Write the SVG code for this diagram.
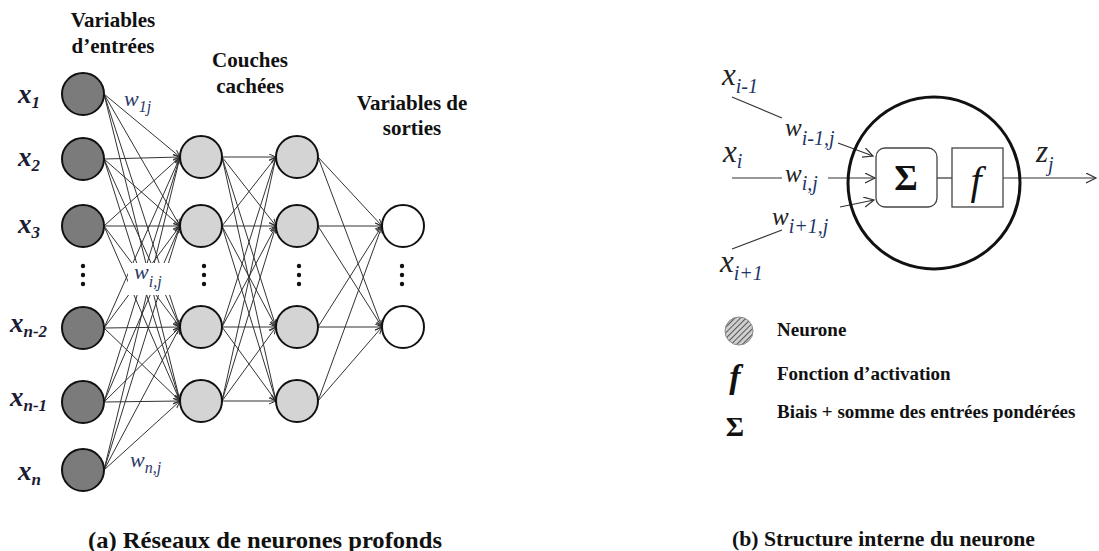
<svg xmlns="http://www.w3.org/2000/svg" width="1099" height="551" viewBox="0 0 1099 551">
<style>
text{font-family:"Liberation Serif","Times New Roman",Tinos,"DejaVu Serif",serif}
.hd{font-weight:bold;font-size:21px;fill:#111;text-anchor:middle}
.xl{font-weight:bold;font-style:italic;font-size:27px;fill:#1b1b33}
.xs{font-size:17px}
.wl{font-style:italic;font-size:22px;fill:#2d3a66}
.ws{font-size:16px}
.rx{font-style:italic;font-size:31px;fill:#222}
.rs{font-size:20px;fill:#1d3566}
.rw{font-style:italic;font-size:25px;fill:#222}
.lg{font-weight:bold;font-size:19px;fill:#111}
.cap{font-weight:bold;fill:#111}
.in{fill:#7b7b7b;stroke:#111;stroke-width:2}
.hid{fill:#d4d4d4;stroke:#111;stroke-width:2}
.out{fill:#fff;stroke:#111;stroke-width:2}
.e{stroke:#333;stroke-width:1;fill:none;marker-end:url(#ah)}
.r{stroke:#333;stroke-width:1.2;fill:none}
.dot{fill:#111}
</style>
<defs>
<marker id="ah" markerWidth="8" markerHeight="8" refX="7" refY="3.5" orient="auto" markerUnits="userSpaceOnUse">
<path d="M0,0.5 L7,3.5 L0,6.5" fill="none" stroke="#333" stroke-width="1"/>
</marker>
<marker id="ah2" markerWidth="12" markerHeight="12" refX="10" refY="5" orient="auto" markerUnits="userSpaceOnUse">
<path d="M0,0 L10,5 L0,10" fill="none" stroke="#333" stroke-width="1.2"/>
</marker>
<pattern id="hatch" width="4" height="4" patternUnits="userSpaceOnUse" patternTransform="rotate(45)">
<rect width="4" height="4" fill="#cfcfcf"/>
<line x1="0" y1="0" x2="0" y2="4" stroke="#555" stroke-width="2"/>
</pattern>
</defs>

<g id="connectors">
<line class="e" x1="104" y1="94" x2="180" y2="157"/>
<line class="e" x1="104" y1="94" x2="180" y2="226"/>
<line class="e" x1="104" y1="94" x2="180" y2="327"/>
<line class="e" x1="104" y1="94" x2="180" y2="401"/>
<line class="e" x1="104" y1="159" x2="180" y2="157"/>
<line class="e" x1="104" y1="159" x2="180" y2="226"/>
<line class="e" x1="104" y1="159" x2="180" y2="327"/>
<line class="e" x1="104" y1="159" x2="180" y2="401"/>
<line class="e" x1="104" y1="226" x2="180" y2="157"/>
<line class="e" x1="104" y1="226" x2="180" y2="226"/>
<line class="e" x1="104" y1="226" x2="180" y2="327"/>
<line class="e" x1="104" y1="226" x2="180" y2="401"/>
<line class="e" x1="104" y1="328" x2="180" y2="157"/>
<line class="e" x1="104" y1="328" x2="180" y2="226"/>
<line class="e" x1="104" y1="328" x2="180" y2="327"/>
<line class="e" x1="104" y1="328" x2="180" y2="401"/>
<line class="e" x1="104" y1="402" x2="180" y2="157"/>
<line class="e" x1="104" y1="402" x2="180" y2="226"/>
<line class="e" x1="104" y1="402" x2="180" y2="327"/>
<line class="e" x1="104" y1="402" x2="180" y2="401"/>
<line class="e" x1="104" y1="470" x2="180" y2="157"/>
<line class="e" x1="104" y1="470" x2="180" y2="226"/>
<line class="e" x1="104" y1="470" x2="180" y2="327"/>
<line class="e" x1="104" y1="470" x2="180" y2="401"/>
<line class="e" x1="222" y1="157" x2="276" y2="157"/>
<line class="e" x1="222" y1="157" x2="276" y2="226"/>
<line class="e" x1="222" y1="157" x2="276" y2="327"/>
<line class="e" x1="222" y1="157" x2="276" y2="401"/>
<line class="e" x1="222" y1="226" x2="276" y2="157"/>
<line class="e" x1="222" y1="226" x2="276" y2="226"/>
<line class="e" x1="222" y1="226" x2="276" y2="327"/>
<line class="e" x1="222" y1="226" x2="276" y2="401"/>
<line class="e" x1="222" y1="327" x2="276" y2="157"/>
<line class="e" x1="222" y1="327" x2="276" y2="226"/>
<line class="e" x1="222" y1="327" x2="276" y2="327"/>
<line class="e" x1="222" y1="327" x2="276" y2="401"/>
<line class="e" x1="222" y1="401" x2="276" y2="157"/>
<line class="e" x1="222" y1="401" x2="276" y2="226"/>
<line class="e" x1="222" y1="401" x2="276" y2="327"/>
<line class="e" x1="222" y1="401" x2="276" y2="401"/>
<line class="e" x1="318" y1="157" x2="382" y2="226"/>
<line class="e" x1="318" y1="157" x2="382" y2="327"/>
<line class="e" x1="318" y1="226" x2="382" y2="226"/>
<line class="e" x1="318" y1="226" x2="382" y2="327"/>
<line class="e" x1="318" y1="327" x2="382" y2="226"/>
<line class="e" x1="318" y1="327" x2="382" y2="327"/>
<line class="e" x1="318" y1="401" x2="382" y2="226"/>
<line class="e" x1="318" y1="401" x2="382" y2="327"/>
<line class="r" x1="732" y1="97" x2="782" y2="118"/>
<line class="r" x1="838" y1="143" x2="873" y2="156" marker-end="url(#ah2)"/>
<line class="r" x1="732" y1="178" x2="782" y2="178"/>
<line class="r" x1="828" y1="178" x2="875" y2="178" marker-end="url(#ah2)"/>
<line class="r" x1="840" y1="207" x2="874" y2="200" marker-end="url(#ah2)"/>
<line class="r" x1="732" y1="249" x2="782" y2="230"/>
<line class="r" x1="937" y1="178" x2="952" y2="178"/>
<line class="r" x1="1003" y1="178" x2="1096" y2="178" marker-end="url(#ah2)"/>
</g>

<g id="headers">
<text class="hd" x="113" y="27">Variables</text>
<text class="hd" x="113" y="53">d’entrées</text>
<text class="hd" x="250" y="67">Couches</text>
<text class="hd" x="250" y="93">cachées</text>
<text class="hd" x="412" y="110">Variables de</text>
<text class="hd" x="412" y="135">sorties</text>
</g>

<g id="input-layer">
<circle class="in" cx="83" cy="94" r="21"/>
<circle class="in" cx="83" cy="159" r="21"/>
<circle class="in" cx="83" cy="226" r="21"/>
<circle class="in" cx="83" cy="328" r="21"/>
<circle class="in" cx="83" cy="402" r="21"/>
<circle class="in" cx="83" cy="470" r="21"/>
<circle class="dot" cx="83" cy="266" r="2.2"/>
<circle class="dot" cx="83" cy="275" r="2.2"/>
<circle class="dot" cx="83" cy="284" r="2.2"/>
<text class="xl" x="18" y="103">x<tspan class="xs" dy="5">1</tspan></text>
<text class="xl" x="18" y="166">x<tspan class="xs" dy="5">2</tspan></text>
<text class="xl" x="18" y="233">x<tspan class="xs" dy="5">3</tspan></text>
<text class="xl" x="10" y="332">x<tspan class="xs" dy="5">n-2</tspan></text>
<text class="xl" x="10" y="406">x<tspan class="xs" dy="5">n-1</tspan></text>
<text class="xl" x="18" y="480">x<tspan class="xs" dy="5">n</tspan></text>
</g>

<g id="hidden-layer-1">
<circle class="hid" cx="201" cy="157" r="21"/>
<circle class="hid" cx="201" cy="226" r="21"/>
<circle class="hid" cx="201" cy="327" r="21"/>
<circle class="hid" cx="201" cy="401" r="21"/>
<circle class="dot" cx="204" cy="266" r="2.2"/>
<circle class="dot" cx="204" cy="275" r="2.2"/>
<circle class="dot" cx="204" cy="284" r="2.2"/>
</g>

<g id="hidden-layer-2">
<circle class="hid" cx="297" cy="157" r="21"/>
<circle class="hid" cx="297" cy="226" r="21"/>
<circle class="hid" cx="297" cy="327" r="21"/>
<circle class="hid" cx="297" cy="401" r="21"/>
<circle class="dot" cx="299" cy="266" r="2.2"/>
<circle class="dot" cx="299" cy="275" r="2.2"/>
<circle class="dot" cx="299" cy="284" r="2.2"/>
</g>

<g id="output-layer">
<circle class="out" cx="403" cy="226" r="21"/>
<circle class="out" cx="403" cy="327" r="21"/>
<circle class="dot" cx="402" cy="266" r="2.2"/>
<circle class="dot" cx="402" cy="275" r="2.2"/>
<circle class="dot" cx="402" cy="284" r="2.2"/>
</g>

<g id="weights">
<text class="wl" x="124" y="106">w<tspan class="ws" dy="6">1j</tspan></text>
<rect x="128" y="263" width="42" height="32" fill="#fff"/>
<text class="wl" x="134" y="279">w<tspan class="ws" dy="8">i,j</tspan></text>
<text class="wl" x="130" y="467">w<tspan class="ws" dy="6">n,j</tspan></text>
</g>

<g id="neuron">
<circle cx="934" cy="183" r="86" fill="none" stroke="#111" stroke-width="3"/>
<rect x="876" y="148" width="61" height="59" rx="9" fill="#fff" stroke="#444" stroke-width="1.3"/>
<rect x="952" y="148" width="51" height="59" fill="#fff" stroke="#444" stroke-width="1.3"/>
<text x="906" y="190" font-weight="bold" font-size="36" text-anchor="middle" fill="#111">Σ</text>
<text x="976" y="194" font-style="italic" font-size="40" text-anchor="middle" fill="#111">f</text>
</g>

<g id="neuron-labels">
<text class="rx" x="722" y="85">x<tspan class="rs" dy="8">i-1</tspan></text>
<text class="rw" x="785" y="136">w<tspan class="rs" dy="9">i-1,j</tspan></text>
<text class="rx" x="723" y="162">x<tspan class="rs" dy="6">i</tspan></text>
<text class="rw" x="785" y="182">w<tspan class="rs" dy="8">i,j</tspan></text>
<text class="rw" x="772" y="225">w<tspan class="rs" dy="8">i+1,j</tspan></text>
<text class="rx" x="720" y="272">x<tspan class="rs" dy="8">i+1</tspan></text>
<text class="rx" x="1036" y="162">z<tspan class="rs" dy="9">j</tspan></text>
</g>

<g id="legend">
<circle cx="739" cy="331" r="14" fill="url(#hatch)" stroke="#888" stroke-width="1"/>
<text class="lg" x="777" y="336">Neurone</text>
<text x="735" y="388" font-weight="bold" font-style="italic" font-size="34" text-anchor="middle" fill="#111">f</text>
<text class="lg" x="777" y="380">Fonction d’activation</text>
<text x="735" y="436" font-weight="bold" font-size="28" text-anchor="middle" fill="#111">Σ</text>
<text class="lg" x="777" y="418">Biais + somme des entrées pondérées</text>
</g>

<g id="captions">
<text class="cap" x="88" y="548" font-size="24" textLength="354" lengthAdjust="spacingAndGlyphs">(a) Réseaux de neurones profonds</text>
<text class="cap" x="732" y="546" font-size="22" textLength="303" lengthAdjust="spacingAndGlyphs">(b) Structure interne du neurone</text>
</g>
</svg>
